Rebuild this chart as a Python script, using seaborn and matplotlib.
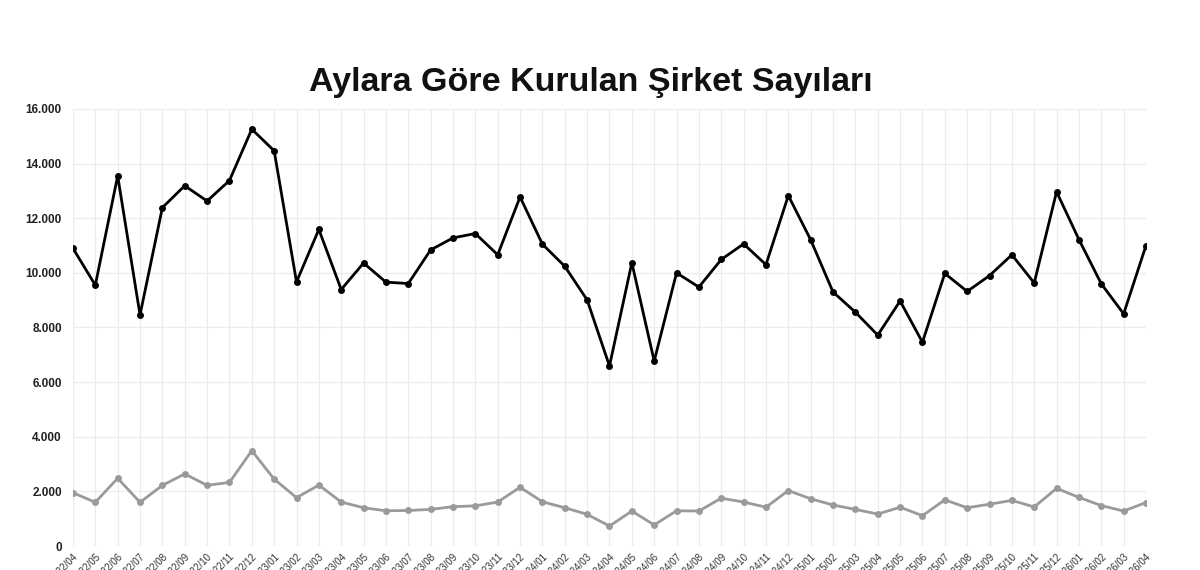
import pandas as pd
import matplotlib.pyplot as plt
import seaborn as sns
from matplotlib.ticker import FuncFormatter

# months 2022/04 .. 2026/04
months = []
for y in range(2022, 2027):
    for m in range(1, 13):
        if (y == 2022 and m < 4) or (y == 2026 and m > 4):
            continue
        months.append(f"{y}/{m:02d}")

kurulan = [10900, 9550, 13550, 8460, 12390, 13190, 12630, 13380, 15260, 14470,
           9670, 11590, 9390, 10360, 9660, 9610, 10840, 11280, 11440, 10660,
           12780, 11050, 10240, 9010, 6590, 10370, 6770, 10000, 9480, 10490,
           11060, 10300, 12830, 11210, 9300, 8560, 7720, 8970, 7460, 9980,
           9320, 9900, 10660, 9630, 12970, 11220, 9600, 8500, 11000]

diger = [1950, 1600, 2480, 1600, 2220, 2640, 2220, 2330, 3490, 2450,
         1770, 2230, 1610, 1400, 1290, 1300, 1340, 1440, 1470, 1610,
         2150, 1620, 1400, 1160, 730, 1280, 770, 1290, 1280, 1750,
         1610, 1420, 2030, 1730, 1500, 1340, 1170, 1420, 1110, 1690,
         1400, 1530, 1670, 1430, 2110, 1780, 1480, 1280, 1590]

df = pd.DataFrame({"idx": range(len(months)), "ay": months,
                   "kurulan": kurulan, "diger": diger})

sns.set_style("white")
plt.rcParams["font.family"] = ["Liberation Sans", "DejaVu Sans"]

fig = plt.figure(figsize=(12, 5.7), dpi=100)
ax = fig.add_axes([0.0608, 0.0421, 0.8942, 0.7667])

sns.lineplot(data=df, x="idx", y="diger", ax=ax, color="#9a9a9a", lw=2,
             marker="o", markersize=5, markeredgewidth=0, zorder=3)
sns.lineplot(data=df, x="idx", y="kurulan", ax=ax, color="black", lw=2,
             marker="o", markersize=5, markeredgewidth=0, zorder=4)

ax.set_xlim(0, len(months) - 1)
ax.set_ylim(0, 16000)
ax.set_yticks(range(0, 16001, 2000))
ax.yaxis.set_major_formatter(FuncFormatter(lambda v, p: f"{int(v):,}".replace(",", ".")))
ax.set_xticks(df["idx"])
ax.set_xticklabels(months, rotation=45, ha="right", rotation_mode="anchor",
                   fontsize=7, color="#333333")
ax.tick_params(axis="y", labelsize=8.5, labelcolor="#222222", length=0, pad=8)
ax.tick_params(axis="x", length=0, pad=4)
for lab in ax.get_yticklabels():
    lab.set_fontweight("bold")

ax.grid(True, color="#ececec", lw=0.9)
ax.set_axisbelow(True)
for s in ax.spines.values():
    s.set_visible(False)
ax.set_xlabel("")
ax.set_ylabel("")

fig.text(0.492, 0.855, "Aylara Göre Kurulan Şirket Sayıları", ha="center",
         va="center", fontsize=24.5, fontweight="bold", color="#111111")

fig.savefig("out.png", dpi=100)
